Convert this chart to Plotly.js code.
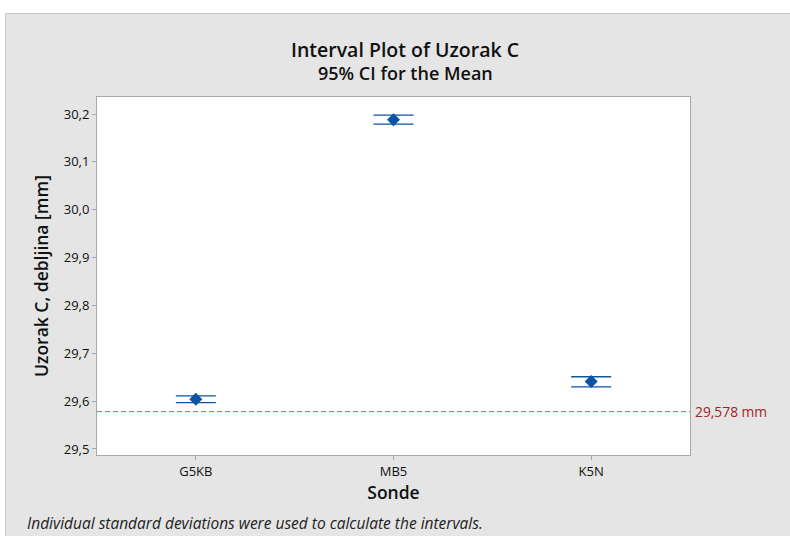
<!DOCTYPE html>
<html><head><meta charset="utf-8">
<script src="https://cdn.plot.ly/plotly-3.0.1.min.js"></script>
<style>
html,body{margin:0;padding:0;background:#fff;width:790px;height:536px;overflow:hidden}
#frame{position:absolute;left:5px;top:13px;width:785px;height:523px;background:#e5e5e5;border-top:1px solid #c9c9c9;border-left:1px solid #c9c9c9;box-sizing:border-box}
#chart{width:784px;height:522px}
</style></head>
<body><div id="frame"><div id="chart"></div></div>
<script>
const categories = ["G5KB", "MB5", "K5N"];
const means = [29.604, 30.188, 29.641];
const upper = [29.611, 30.198, 29.651];
const lower = [29.597, 30.179, 29.630];
const refValue = 29.578;
const refLabel = "29,578 mm";
const yTicks = [29.5, 29.6, 29.7, 29.8, 29.9, 30.0, 30.1, 30.2];

const blue = "#0b54a3";
const font = "Open Sans, Noto Sans, sans-serif";

const trace = {
  type: "scatter", mode: "markers",
  x: categories, y: means,
  marker: {symbol: "diamond", size: 10, color: blue},
  error_y: {type: "data", symmetric: false,
    array: upper.map((u, i) => u - means[i]),
    arrayminus: lower.map((l, i) => means[i] - l),
    color: blue, thickness: 1.3, width: 20},
  hoverinfo: "x+y", showlegend: false
};

const layout = {
  width: 784, height: 522,
  margin: {l: 91, r: 100, t: 83, b: 81},
  paper_bgcolor: "#e5e5e5", plot_bgcolor: "#ffffff",
  separators: ",.",
  font: {family: font, color: "#1a1a1a"},
  xaxis: {type: "category", range: [-0.5, 2.5], showline: true, mirror: true,
    linecolor: "#a8a8a8", linewidth: 1, ticks: "outside", ticklen: 4, tickcolor: "#a8a8a8",
    showgrid: false, zeroline: false, tickfont: {size: 13, family: font, color: "#111", weight: 500},
    title: {text: "Sonde", font: {size: 17.5, family: font, color: "#111", weight: 600}, standoff: 5}},
  yaxis: {range: [29.4874, 30.2357], showline: true, mirror: true,
    linecolor: "#a8a8a8", linewidth: 1, ticks: "outside", ticklen: 4, tickcolor: "#a8a8a8",
    tickvals: yTicks, tickformat: ".1f", showgrid: false, zeroline: false,
    tickfont: {size: 13, family: font, color: "#111", weight: 500},
    title: {text: "Uzorak C, debljina [mm]", font: {size: 17.5, family: font, color: "#111", weight: 600}, standoff: 10}},
  shapes: [{type: "line", xref: "paper", x0: 0, x1: 1, yref: "y", y0: refValue, y1: refValue,
    line: {color: "#dc4e4b", width: 1, dash: "5px,3px"}}],
  annotations: [
    {xref: "paper", yref: "y", x: 1, y: refValue, xanchor: "left", yanchor: "middle", xshift: 3,
     text: refLabel, showarrow: false, font: {size: 13.8, color: "#a3231f", family: font}},
    {xref: "paper", yref: "paper", x: 0.52, y: 1.134, xanchor: "center", yanchor: "middle",
     text: "Interval Plot of Uzorak C", showarrow: false, font: {size: 19.5, color: "#111", family: font, weight: 600}},
    {xref: "paper", yref: "paper", x: 0.52, y: 1.067, xanchor: "center", yanchor: "middle",
     text: "95% CI for the Mean", showarrow: false, font: {size: 18, color: "#111", family: font, weight: 600}},
    {xref: "paper", yref: "paper", x: -0.121, y: -0.19, xanchor: "left", yanchor: "middle",
     text: "<i>Individual standard deviations were used to calculate the intervals.</i>",
     showarrow: false, font: {size: 15.5, color: "#222", family: font}}
  ]
};

Plotly.newPlot("chart", [trace], layout, {displayModeBar: false, staticPlot: true});
</script></body></html>
